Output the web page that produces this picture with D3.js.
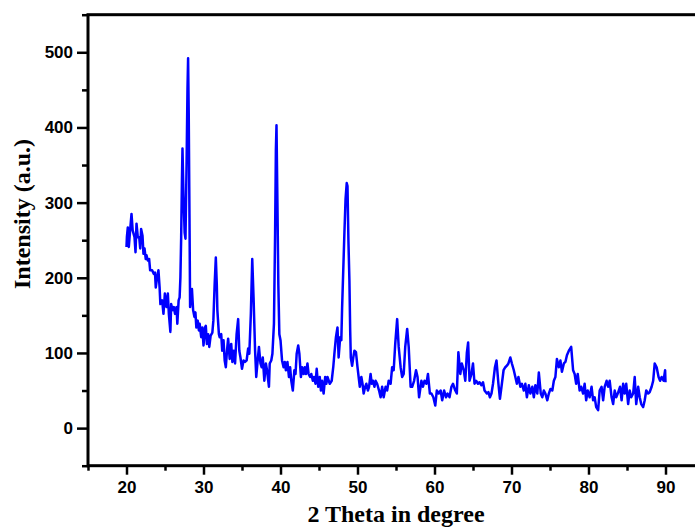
<!doctype html>
<html lang="en">
<head>
    <title>XRD pattern</title>
    <meta charset="utf-8"/>
    <script src="https://d3js.org/d3.v7.min.js"></script>
    <style>
        body {
            margin: 0;
            padding: 0;
            background: white;
        }
        .tick text {
            font-family: "Liberation Sans", Arial, sans-serif;
            font-weight: bold;
            font-size: 17px;
        }
        .title {
            font-family: "Liberation Serif", "Times New Roman", serif;
            font-weight: bold;
            font-size: 24px;
        }
    </style>
</head>
<body>
<script>

    const twoTheta = [
        20.0, 20.05, 20.17, 20.3, 20.47, 20.65, 20.8, 21.04, 21.17, 21.3, 21.47, 21.65, 21.78, 21.9,
        22.08, 22.2, 22.34, 22.5, 22.6, 22.77, 22.94, 23.07, 23.33, 23.55, 23.7, 23.8, 23.98, 24.15,
        24.3, 24.4, 24.63, 24.8, 24.98, 25.2, 25.37, 25.5, 25.7, 25.8, 25.98, 26.15, 26.3, 26.5, 26.6,
        26.77, 26.9, 27.0, 27.1, 27.2, 27.27, 27.4, 27.55, 27.66, 27.8, 27.92, 28.0, 28.08, 28.18,
        28.26, 28.38, 28.5, 28.65, 28.82, 28.95, 29.07, 29.25, 29.4, 29.5, 29.7, 29.85, 30.0, 30.2,
        30.3, 30.44, 30.6, 30.75, 30.93, 31.15, 31.28, 31.45, 31.6, 31.73, 31.8, 32.0, 32.1, 32.3,
        32.43, 32.6, 32.75, 32.9, 33.05, 33.2, 33.4, 33.6, 33.75, 33.93, 34.1, 34.3, 34.5, 34.65,
        34.8, 35.0, 35.2, 35.4, 35.6, 35.8, 35.95, 36.15, 36.33, 36.5, 36.7, 36.85, 37.0, 37.2, 37.4,
        37.55, 37.7, 37.9, 38.1, 38.25, 38.5, 38.6, 38.8, 38.95, 39.15, 39.3, 39.4, 39.48, 39.6,
        39.72, 39.85, 40.0, 40.2, 40.4, 40.55, 40.7, 40.9, 41.1, 41.25, 41.4, 41.6, 41.8, 41.95,
        42.1, 42.3, 42.45, 42.65, 42.8, 43.0, 43.15, 43.3, 43.5, 43.65, 43.85, 44.0, 44.2, 44.35,
        44.55, 44.7, 44.9, 45.1, 45.25, 45.4, 45.6, 45.8, 45.95, 46.1, 46.4, 46.65, 46.85, 47.0,
        47.2, 47.4, 47.55, 47.75, 47.9, 48.0, 48.15, 48.3, 48.45, 48.6, 48.7, 48.82, 48.95, 49.05,
        49.13, 49.3, 49.45, 49.6, 49.8, 50.0, 50.15, 50.3, 50.5, 50.65, 50.8, 51.0, 51.15, 51.35,
        51.5, 51.7, 51.85, 52.0, 52.2, 52.35, 52.55, 52.8, 53.0, 53.2, 53.4, 53.65, 53.85, 54.05,
        54.3, 54.5, 54.7, 54.9, 55.15, 55.35, 55.6, 55.8, 56.0, 56.2, 56.45, 56.65, 56.9, 57.1,
        57.35, 57.6, 57.8, 58.0, 58.3, 58.5, 58.7, 58.95, 59.15, 59.4, 59.6, 59.85, 60.1, 60.3,
        60.55, 60.8, 61.0, 61.25, 61.5, 61.7, 61.95, 62.2, 62.4, 62.7, 62.9, 63.1, 63.35, 63.55,
        63.8, 64.0, 64.2, 64.37, 64.55, 64.8, 65.0, 65.2, 65.4, 65.65, 65.85, 66.1, 66.3, 66.5,
        66.8, 67.0, 67.2, 67.4, 67.6, 67.85, 68.05, 68.3, 68.5, 68.75, 68.97, 69.2, 69.4, 69.6,
        69.85, 70.05, 70.3, 70.5, 70.7, 70.9, 71.15, 71.35, 71.6, 71.8, 72.0, 72.25, 72.45, 72.7,
        72.9, 73.1, 73.35, 73.55, 73.8, 74.0, 74.2, 74.4, 74.65, 74.85, 75.05, 75.3, 75.5, 75.7,
        75.9, 76.15, 76.35, 76.55, 76.8, 77.0, 77.2, 77.45, 77.75, 78.0, 78.2, 78.4, 78.6, 78.85,
        79.05, 79.3, 79.5, 79.7, 79.9, 80.15, 80.4, 80.6, 80.8, 81.0, 81.25, 81.45, 81.7, 81.9,
        82.1, 82.35, 82.55, 82.75, 83.0, 83.2, 83.4, 83.6, 83.8, 84.1, 84.3, 84.5, 84.7, 84.9,
        85.15, 85.35, 85.55, 85.8, 86.0, 86.2, 86.45, 86.65, 86.85, 87.1, 87.3, 87.5, 87.75, 87.95,
        88.2, 88.4, 88.6, 88.85, 89.1, 89.3, 89.5, 89.75, 89.95, 90.0
    ]

    const intensity = [
        241, 254, 267, 241, 263, 285, 263, 254, 234, 272, 254, 254, 239, 265,
        256, 232, 239, 225, 230, 223, 225, 210, 210, 205, 207, 187, 201, 210,
        187, 165, 170, 152, 179, 161, 179, 152, 128, 165, 157, 161, 152, 161, 139,
        170, 174, 200, 254, 330, 372, 310, 260, 252, 350, 450, 492, 420, 280,
        161, 175, 185, 157, 148, 154, 134, 143, 130, 139, 121, 134, 110, 134,
        136, 112, 125, 108, 123, 127, 143, 192, 227, 190, 157, 125, 121, 125,
        103, 117, 90, 81, 103, 119, 92, 112, 88, 103, 86, 125, 145, 103,
        94, 79, 90, 88, 90, 106, 99, 152, 225, 174, 103, 68, 86, 108, 86,
        81, 94, 63, 86, 77, 55, 86, 90, 99, 139, 260, 370, 403, 300,
        190, 125, 117, 90, 81, 88, 77, 88, 68, 81, 63, 50, 77, 72,
        99, 110, 99, 68, 81, 72, 81, 72, 86, 72, 68, 72, 63, 68,
        59, 79, 55, 68, 50, 63, 46, 68, 59, 68, 59, 63, 81, 99,
        121, 134, 94, 121, 117, 160, 210, 260, 305, 326, 322, 250, 196, 130,
        94, 83, 94, 103, 101, 81, 68, 55, 68, 59, 46, 55, 59, 50,
        55, 72, 59, 63, 55, 63, 59, 50, 41, 55, 41, 55, 50, 63,
        59, 81, 77, 112, 145, 108, 81, 68, 72, 108, 132, 108, 55, 55,
        63, 77, 68, 41, 63, 55, 63, 59, 72, 46, 46, 41, 30, 50,
        46, 50, 37, 50, 41, 46, 41, 55, 59, 50, 46, 101, 72, 86,
        77, 63, 100, 114, 63, 72, 86, 59, 63, 59, 61, 57, 61, 50,
        46, 48, 41, 46, 59, 81, 90, 59, 39, 59, 77, 81, 83, 86,
        94, 86, 77, 68, 59, 68, 55, 59, 50, 59, 41, 57, 46, 55,
        41, 57, 46, 74, 46, 41, 50, 46, 37, 46, 52, 50, 63, 68,
        92, 81, 90, 75, 86, 88, 97, 103, 108, 77, 72, 59, 72, 50,
        55, 46, 59, 37, 50, 41, 55, 37, 41, 28, 24, 50, 55, 37,
        55, 63, 55, 63, 41, 32, 50, 41, 46, 55, 37, 59, 46, 59,
        32, 50, 41, 46, 68, 32, 55, 41, 32, 28, 37, 50, 46, 48,
        55, 63, 86, 81, 68, 63, 68, 63, 77, 61
    ]

    // ticks
    const xMajorTicks = [20, 30, 40, 50, 60, 70, 80, 90]
    const xMinorTicks = [15, 25, 35, 45, 55, 65, 75, 85, 95]
    const yMajorTicks = [0, 100, 200, 300, 400, 500]
    const yMinorTicks = [-50, 50, 150, 250, 350, 450, 550]

    const width = 695
    const height = 529

    // the frame runs out of the right side of the picture
    const plotLeft = 88, plotTop = 14.7, plotBottom = 465.7

    const svg = d3.select("body")
        .append("svg")
        .attr("width", width)
        .attr("height", height)

    const x = d3.scaleLinear()
        .domain([15, 95])
        .range([plotLeft, plotLeft + 80 * 7.7])

    const y = d3.scaleLinear()
        .domain([-50, 550])
        .range([plotBottom, plotTop])

    // minor ticks, then major ticks with labels
    svg.append("g")
        .attr("transform", `translate(0,${plotBottom})`)
        .call(d3.axisBottom(x).tickValues(xMinorTicks).tickSize(5).tickFormat(""))
        .call(g => g.select(".domain").remove())
    svg.append("g")
        .attr("transform", `translate(0,${plotBottom})`)
        .call(d3.axisBottom(x).tickValues(xMajorTicks).tickSize(9).tickPadding(6).tickFormat(d3.format("d")))
        .call(g => g.select(".domain").remove())

    svg.append("g")
        .attr("transform", `translate(${plotLeft},0)`)
        .call(d3.axisLeft(y).tickValues(yMinorTicks).tickSize(6).tickFormat(""))
        .call(g => g.select(".domain").remove())
    svg.append("g")
        .attr("transform", `translate(${plotLeft},0)`)
        .call(d3.axisLeft(y).tickValues(yMajorTicks).tickSize(11).tickPadding(4).tickFormat(d3.format("d")))
        .call(g => g.select(".domain").remove())

    svg.selectAll(".tick line")
        .attr("stroke", "black")
        .attr("stroke-width", 2.5)
    svg.selectAll(".tick text")
        .attr("fill", "black")

    // frame
    svg.append("rect")
        .attr("x", x(15))
        .attr("y", y(550))
        .attr("width", x(95) - x(15))
        .attr("height", y(-50) - y(550))
        .attr("fill", "none")
        .attr("stroke", "black")
        .attr("stroke-width", 3)

    const points = twoTheta.map((d, i) => [d, intensity[i]])

    const line = d3.line()
        .x(d => x(d[0]))
        .y(d => y(d[1]))

    svg.append("path")
        .datum(points)
        .attr("d", line)
        .attr("fill", "none")
        .attr("stroke", "#0000ff")
        .attr("stroke-width", 2.5)
        .attr("stroke-linejoin", "round")

    // axis titles
    svg.append("text")
        .attr("class", "title")
        .attr("x", 396)
        .attr("y", 522)
        .attr("text-anchor", "middle")
        .text("2 Theta in degree")

    svg.append("text")
        .attr("class", "title")
        .attr("transform", "translate(30,214) rotate(-90)")
        .attr("text-anchor", "middle")
        .text("Intensity (a.u.)")

</script>
</body>
</html>
